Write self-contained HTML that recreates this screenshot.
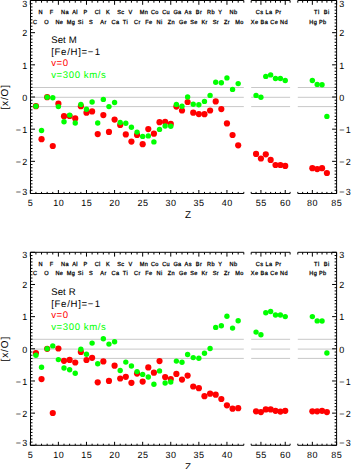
<!DOCTYPE html>
<html><head><meta charset="utf-8"><style>
html,body{margin:0;padding:0;background:#fff;}
svg{display:block;}
text{font-family:"Liberation Sans",sans-serif;fill:#000;text-rendering:geometricPrecision;}
.tk{font-size:9px;}
.tx{font-size:9px;letter-spacing:0.5px;}
.el{font-size:5.9px;font-weight:normal;letter-spacing:0.38px;stroke:#000;stroke-width:0.26px;}
.lg{font-size:9.6px;letter-spacing:0.6px;}
.yt{font-size:10px;}
.zt{font-size:10px;}
</style></head><body>
<svg width="351" height="469" viewBox="0 0 351 469">
<rect width="351" height="469" fill="#fff"/>
<g>
<g>
<line x1="30.3" y1="87.5" x2="243.8" y2="87.5" stroke="#c8c8c8" stroke-width="1"/>
<line x1="251.2" y1="87.5" x2="290.1" y2="87.5" stroke="#c8c8c8" stroke-width="1"/>
<line x1="297.8" y1="87.5" x2="336.6" y2="87.5" stroke="#c8c8c8" stroke-width="1"/>
<line x1="30.3" y1="97.3" x2="243.8" y2="97.3" stroke="#c8c8c8" stroke-width="1"/>
<line x1="251.2" y1="97.3" x2="290.1" y2="97.3" stroke="#c8c8c8" stroke-width="1"/>
<line x1="297.8" y1="97.3" x2="336.6" y2="97.3" stroke="#c8c8c8" stroke-width="1"/>
<line x1="30.3" y1="106.6" x2="243.8" y2="106.6" stroke="#c8c8c8" stroke-width="1"/>
<line x1="251.2" y1="106.6" x2="290.1" y2="106.6" stroke="#c8c8c8" stroke-width="1"/>
<line x1="297.8" y1="106.6" x2="336.6" y2="106.6" stroke="#c8c8c8" stroke-width="1"/>
<path d="M30.3 0.5H243.8M30.3 193.5H243.8M30.3 0.5v4.3M30.3 193.5v-3.5M35.92 0.5v2.2M35.92 193.5v-1.6M41.54 0.5v2.2M41.54 193.5v-1.6M47.16 0.5v2.2M47.16 193.5v-1.6M52.77 0.5v2.2M52.77 193.5v-1.6M58.39 0.5v4.3M58.39 193.5v-3.5M64.01 0.5v2.2M64.01 193.5v-1.6M69.63 0.5v2.2M69.63 193.5v-1.6M75.25 0.5v2.2M75.25 193.5v-1.6M80.87 0.5v2.2M80.87 193.5v-1.6M86.48 0.5v4.3M86.48 193.5v-3.5M92.1 0.5v2.2M92.1 193.5v-1.6M97.72 0.5v2.2M97.72 193.5v-1.6M103.34 0.5v2.2M103.34 193.5v-1.6M108.96 0.5v2.2M108.96 193.5v-1.6M114.58 0.5v4.3M114.58 193.5v-3.5M120.19 0.5v2.2M120.19 193.5v-1.6M125.81 0.5v2.2M125.81 193.5v-1.6M131.43 0.5v2.2M131.43 193.5v-1.6M137.05 0.5v2.2M137.05 193.5v-1.6M142.67 0.5v4.3M142.67 193.5v-3.5M148.29 0.5v2.2M148.29 193.5v-1.6M153.91 0.5v2.2M153.91 193.5v-1.6M159.52 0.5v2.2M159.52 193.5v-1.6M165.14 0.5v2.2M165.14 193.5v-1.6M170.76 0.5v4.3M170.76 193.5v-3.5M176.38 0.5v2.2M176.38 193.5v-1.6M182 0.5v2.2M182 193.5v-1.6M187.62 0.5v2.2M187.62 193.5v-1.6M193.23 0.5v2.2M193.23 193.5v-1.6M198.85 0.5v4.3M198.85 193.5v-3.5M204.47 0.5v2.2M204.47 193.5v-1.6M210.09 0.5v2.2M210.09 193.5v-1.6M215.71 0.5v2.2M215.71 193.5v-1.6M221.33 0.5v2.2M221.33 193.5v-1.6M226.94 0.5v4.3M226.94 193.5v-3.5M232.56 0.5v2.2M232.56 193.5v-1.6M238.18 0.5v2.2M238.18 193.5v-1.6M243.8 0.5v2.2M243.8 193.5v-1.6M251.2 0.5H290.1M251.2 193.5H290.1M251.2 0.5v2.2M251.2 193.5v-1.6M256.06 0.5v2.2M256.06 193.5v-1.6M260.93 0.5v4.3M260.93 193.5v-3.5M265.79 0.5v2.2M265.79 193.5v-1.6M270.65 0.5v2.2M270.65 193.5v-1.6M275.51 0.5v2.2M275.51 193.5v-1.6M280.38 0.5v2.2M280.38 193.5v-1.6M285.24 0.5v4.3M285.24 193.5v-3.5M290.1 0.5v2.2M290.1 193.5v-1.6M297.8 0.5H336.6M297.8 193.5H336.6M297.8 0.5v2.2M297.8 193.5v-1.6M302.65 0.5v2.2M302.65 193.5v-1.6M307.5 0.5v2.2M307.5 193.5v-1.6M312.35 0.5v4.3M312.35 193.5v-3.5M317.2 0.5v2.2M317.2 193.5v-1.6M322.05 0.5v2.2M322.05 193.5v-1.6M326.9 0.5v2.2M326.9 193.5v-1.6M331.75 0.5v2.2M331.75 193.5v-1.6M336.6 0.5v4.3M336.6 193.5v-3.5M30.5 0.5V193.5M336.6 0.5V193.5M30.5 193.5h4.5M336.6 193.5h-4.5M30.5 190.28h2M336.6 190.28h-2M30.5 187.07h2M336.6 187.07h-2M30.5 183.85h2M336.6 183.85h-2M30.5 180.63h2M336.6 180.63h-2M30.5 177.42h2M336.6 177.42h-2M30.5 174.2h2M336.6 174.2h-2M30.5 170.98h2M336.6 170.98h-2M30.5 167.77h2M336.6 167.77h-2M30.5 164.55h2M336.6 164.55h-2M30.5 161.33h4.5M336.6 161.33h-4.5M30.5 158.12h2M336.6 158.12h-2M30.5 154.9h2M336.6 154.9h-2M30.5 151.68h2M336.6 151.68h-2M30.5 148.47h2M336.6 148.47h-2M30.5 145.25h2M336.6 145.25h-2M30.5 142.03h2M336.6 142.03h-2M30.5 138.82h2M336.6 138.82h-2M30.5 135.6h2M336.6 135.6h-2M30.5 132.38h2M336.6 132.38h-2M30.5 129.17h4.5M336.6 129.17h-4.5M30.5 125.95h2M336.6 125.95h-2M30.5 122.73h2M336.6 122.73h-2M30.5 119.52h2M336.6 119.52h-2M30.5 116.3h2M336.6 116.3h-2M30.5 113.08h2M336.6 113.08h-2M30.5 109.87h2M336.6 109.87h-2M30.5 106.65h2M336.6 106.65h-2M30.5 103.43h2M336.6 103.43h-2M30.5 100.22h2M336.6 100.22h-2M30.5 97h4.5M336.6 97h-4.5M30.5 93.78h2M336.6 93.78h-2M30.5 90.57h2M336.6 90.57h-2M30.5 87.35h2M336.6 87.35h-2M30.5 84.13h2M336.6 84.13h-2M30.5 80.92h2M336.6 80.92h-2M30.5 77.7h2M336.6 77.7h-2M30.5 74.48h2M336.6 74.48h-2M30.5 71.27h2M336.6 71.27h-2M30.5 68.05h2M336.6 68.05h-2M30.5 64.83h4.5M336.6 64.83h-4.5M30.5 61.62h2M336.6 61.62h-2M30.5 58.4h2M336.6 58.4h-2M30.5 55.18h2M336.6 55.18h-2M30.5 51.97h2M336.6 51.97h-2M30.5 48.75h2M336.6 48.75h-2M30.5 45.53h2M336.6 45.53h-2M30.5 42.32h2M336.6 42.32h-2M30.5 39.1h2M336.6 39.1h-2M30.5 35.88h2M336.6 35.88h-2M30.5 32.67h4.5M336.6 32.67h-4.5M30.5 29.45h2M336.6 29.45h-2M30.5 26.23h2M336.6 26.23h-2M30.5 23.02h2M336.6 23.02h-2M30.5 19.8h2M336.6 19.8h-2M30.5 16.58h2M336.6 16.58h-2M30.5 13.37h2M336.6 13.37h-2M30.5 10.15h2M336.6 10.15h-2M30.5 6.93h2M336.6 6.93h-2M30.5 3.72h2M336.6 3.72h-2M30.5 0.5h4.5M336.6 0.5h-4.5" stroke="#000" stroke-width="1" fill="none"/>
<text x="27.3" y="6.5" text-anchor="end" class="tk">3</text>
<text x="339.2" y="6.5" class="tk">3</text>
<text x="27.3" y="36.37" text-anchor="end" class="tk">2</text>
<text x="339.2" y="36.37" class="tk">2</text>
<text x="27.3" y="68.53" text-anchor="end" class="tk">1</text>
<text x="339.2" y="68.53" class="tk">1</text>
<text x="27.3" y="100.7" text-anchor="end" class="tk">0</text>
<text x="339.2" y="100.7" class="tk">0</text>
<text x="27.3" y="132.87" text-anchor="end" class="tk">−<tspan dx="1.2">1</tspan></text>
<text x="339.2" y="132.87" class="tk">−<tspan dx="1.2">1</tspan></text>
<text x="27.3" y="165.03" text-anchor="end" class="tk">−<tspan dx="1.2">2</tspan></text>
<text x="339.2" y="165.03" class="tk">−<tspan dx="1.2">2</tspan></text>
<text x="27.3" y="194.5" text-anchor="end" class="tk">−<tspan dx="1.2">3</tspan></text>
<text x="339.2" y="194.5" class="tk">−<tspan dx="1.2">3</tspan></text>
<text x="30.55" y="206.3" text-anchor="middle" class="tx">5</text>
<text x="58.64" y="206.3" text-anchor="middle" class="tx">10</text>
<text x="86.73" y="206.3" text-anchor="middle" class="tx">15</text>
<text x="114.83" y="206.3" text-anchor="middle" class="tx">20</text>
<text x="142.92" y="206.3" text-anchor="middle" class="tx">25</text>
<text x="171.01" y="206.3" text-anchor="middle" class="tx">30</text>
<text x="199.1" y="206.3" text-anchor="middle" class="tx">35</text>
<text x="227.19" y="206.3" text-anchor="middle" class="tx">40</text>
<text x="261.18" y="206.3" text-anchor="middle" class="tx">55</text>
<text x="285.49" y="206.3" text-anchor="middle" class="tx">60</text>
<text x="312.6" y="206.3" text-anchor="middle" class="tx">80</text>
<text x="336.85" y="206.3" text-anchor="middle" class="tx">85</text>
<text x="188" y="218" text-anchor="middle" class="zt">Z</text>
<text transform="translate(32.92 23.5) scale(0.95 1)" class="el">C</text>
<text transform="translate(38.54 14.1) scale(0.95 1)" class="el">N</text>
<text transform="translate(44.16 23.5) scale(0.95 1)" class="el">O</text>
<text transform="translate(49.77 14.1) scale(0.95 1)" class="el">F</text>
<text transform="translate(55.39 23.5) scale(0.95 1)" class="el">Ne</text>
<text transform="translate(61.01 14.1) scale(0.95 1)" class="el">Na</text>
<text transform="translate(66.63 23.5) scale(0.95 1)" class="el">Mg</text>
<text transform="translate(72.25 14.1) scale(0.95 1)" class="el">Al</text>
<text transform="translate(77.87 23.5) scale(0.95 1)" class="el">Si</text>
<text transform="translate(83.48 14.1) scale(0.95 1)" class="el">P</text>
<text transform="translate(89.1 23.5) scale(0.95 1)" class="el">S</text>
<text transform="translate(94.72 14.1) scale(0.95 1)" class="el">Cl</text>
<text transform="translate(100.34 23.5) scale(0.95 1)" class="el">Ar</text>
<text transform="translate(105.96 14.1) scale(0.95 1)" class="el">K</text>
<text transform="translate(111.58 23.5) scale(0.95 1)" class="el">Ca</text>
<text transform="translate(117.19 14.1) scale(0.95 1)" class="el">Sc</text>
<text transform="translate(122.81 23.5) scale(0.95 1)" class="el">Ti</text>
<text transform="translate(128.43 14.1) scale(0.95 1)" class="el">V</text>
<text transform="translate(134.05 23.5) scale(0.95 1)" class="el">Cr</text>
<text transform="translate(139.67 14.1) scale(0.95 1)" class="el">Mn</text>
<text transform="translate(145.29 23.5) scale(0.95 1)" class="el">Fe</text>
<text transform="translate(150.91 14.1) scale(0.95 1)" class="el">Co</text>
<text transform="translate(156.52 23.5) scale(0.95 1)" class="el">Ni</text>
<text transform="translate(162.14 14.1) scale(0.95 1)" class="el">Cu</text>
<text transform="translate(167.76 23.5) scale(0.95 1)" class="el">Zn</text>
<text transform="translate(173.38 14.1) scale(0.95 1)" class="el">Ga</text>
<text transform="translate(179 23.5) scale(0.95 1)" class="el">Ge</text>
<text transform="translate(184.62 14.1) scale(0.95 1)" class="el">As</text>
<text transform="translate(190.23 23.5) scale(0.95 1)" class="el">Se</text>
<text transform="translate(195.85 14.1) scale(0.95 1)" class="el">Br</text>
<text transform="translate(201.47 23.5) scale(0.95 1)" class="el">Kr</text>
<text transform="translate(207.09 14.1) scale(0.95 1)" class="el">Rb</text>
<text transform="translate(212.71 23.5) scale(0.95 1)" class="el">Sr</text>
<text transform="translate(218.33 14.1) scale(0.95 1)" class="el">Y</text>
<text transform="translate(223.94 23.5) scale(0.95 1)" class="el">Zr</text>
<text transform="translate(229.56 14.1) scale(0.95 1)" class="el">Nb</text>
<text transform="translate(235.18 23.5) scale(0.95 1)" class="el">Mo</text>
<text transform="translate(250.86 23.5) scale(0.95 1)" class="el">Xe</text>
<text transform="translate(255.73 14.1) scale(0.95 1)" class="el">Cs</text>
<text transform="translate(260.59 23.5) scale(0.95 1)" class="el">Ba</text>
<text transform="translate(265.45 14.1) scale(0.95 1)" class="el">La</text>
<text transform="translate(270.31 23.5) scale(0.95 1)" class="el">Ce</text>
<text transform="translate(275.18 14.1) scale(0.95 1)" class="el">Pr</text>
<text transform="translate(280.04 23.5) scale(0.95 1)" class="el">Nd</text>
<text transform="translate(309.25 23.5) scale(0.95 1)" class="el">Hg</text>
<text transform="translate(314.1 14.1) scale(0.95 1)" class="el">Tl</text>
<text transform="translate(318.95 23.5) scale(0.95 1)" class="el">Pb</text>
<text transform="translate(323.8 14.1) scale(0.95 1)" class="el">Bi</text>
<text x="51.2" y="43.3" class="lg" style="letter-spacing:0.1px">Set M</text>
<text x="51.2" y="54.8" class="lg" style="letter-spacing:0.7px">[Fe/H]=−<tspan dx="0.5">1</tspan></text>
<text x="51.2" y="66.3" class="lg" style="fill:#ff0000">v=0</text>
<text x="51.2" y="77.8" class="lg" style="fill:#00ff00">v=300 km/s</text>
<text transform="translate(8.1 97.3) rotate(-90)" text-anchor="middle" textLength="24.6" lengthAdjust="spacing" class="yt">[x/O]</text>
</g>
<circle cx="35.92" cy="106.2" r="3.1" fill="#ff0000"/>
<circle cx="41.54" cy="139.2" r="3.1" fill="#ff0000"/>
<circle cx="47.16" cy="97.2" r="3.1" fill="#ff0000"/>
<circle cx="52.77" cy="146" r="3.1" fill="#ff0000"/>
<circle cx="58.39" cy="103.7" r="3.1" fill="#ff0000"/>
<circle cx="64.01" cy="116.2" r="3.1" fill="#ff0000"/>
<circle cx="69.63" cy="116" r="3.1" fill="#ff0000"/>
<circle cx="75.25" cy="118.4" r="3.1" fill="#ff0000"/>
<circle cx="80.87" cy="106.2" r="3.1" fill="#ff0000"/>
<circle cx="86.48" cy="112.7" r="3.1" fill="#ff0000"/>
<circle cx="92.1" cy="111.4" r="3.1" fill="#ff0000"/>
<circle cx="97.72" cy="134.1" r="3.1" fill="#ff0000"/>
<circle cx="103.34" cy="115.1" r="3.1" fill="#ff0000"/>
<circle cx="108.96" cy="131.9" r="3.1" fill="#ff0000"/>
<circle cx="114.58" cy="119.6" r="3.1" fill="#ff0000"/>
<circle cx="120.19" cy="125" r="3.1" fill="#ff0000"/>
<circle cx="125.81" cy="134.4" r="3.1" fill="#ff0000"/>
<circle cx="131.43" cy="141.6" r="3.1" fill="#ff0000"/>
<circle cx="137.05" cy="134.9" r="3.1" fill="#ff0000"/>
<circle cx="142.67" cy="144.2" r="3.1" fill="#ff0000"/>
<circle cx="148.29" cy="129.1" r="3.1" fill="#ff0000"/>
<circle cx="153.91" cy="133.7" r="3.1" fill="#ff0000"/>
<circle cx="159.52" cy="122.2" r="3.1" fill="#ff0000"/>
<circle cx="165.14" cy="121.9" r="3.1" fill="#ff0000"/>
<circle cx="170.76" cy="123.9" r="3.1" fill="#ff0000"/>
<circle cx="176.38" cy="106.6" r="3.1" fill="#ff0000"/>
<circle cx="182" cy="110.5" r="3.1" fill="#ff0000"/>
<circle cx="187.62" cy="102" r="3.1" fill="#ff0000"/>
<circle cx="193.23" cy="112.7" r="3.1" fill="#ff0000"/>
<circle cx="198.85" cy="114.1" r="3.1" fill="#ff0000"/>
<circle cx="204.47" cy="114.2" r="3.1" fill="#ff0000"/>
<circle cx="210.09" cy="110.5" r="3.1" fill="#ff0000"/>
<circle cx="215.71" cy="101.4" r="3.1" fill="#ff0000"/>
<circle cx="221.33" cy="109.1" r="3.1" fill="#ff0000"/>
<circle cx="226.94" cy="123.4" r="3.1" fill="#ff0000"/>
<circle cx="232.56" cy="135" r="3.1" fill="#ff0000"/>
<circle cx="238.18" cy="145.3" r="3.1" fill="#ff0000"/>
<circle cx="256.06" cy="153.9" r="3.1" fill="#ff0000"/>
<circle cx="260.93" cy="158.5" r="3.1" fill="#ff0000"/>
<circle cx="265.79" cy="154.3" r="3.1" fill="#ff0000"/>
<circle cx="270.65" cy="159.9" r="3.1" fill="#ff0000"/>
<circle cx="275.51" cy="165" r="3.1" fill="#ff0000"/>
<circle cx="280.38" cy="165" r="3.1" fill="#ff0000"/>
<circle cx="285.24" cy="165.9" r="3.1" fill="#ff0000"/>
<circle cx="312.35" cy="168.2" r="3.1" fill="#ff0000"/>
<circle cx="317.2" cy="169.1" r="3.1" fill="#ff0000"/>
<circle cx="322.05" cy="168.2" r="3.1" fill="#ff0000"/>
<circle cx="326.9" cy="173" r="3.1" fill="#ff0000"/>
<circle cx="35.92" cy="106.2" r="2.7" fill="#00ff00"/>
<circle cx="41.54" cy="130.5" r="2.7" fill="#00ff00"/>
<circle cx="47.16" cy="97.2" r="2.7" fill="#00ff00"/>
<circle cx="52.77" cy="97.7" r="2.7" fill="#00ff00"/>
<circle cx="58.39" cy="106.6" r="2.7" fill="#00ff00"/>
<circle cx="64.01" cy="121.8" r="2.7" fill="#00ff00"/>
<circle cx="69.63" cy="115.1" r="2.7" fill="#00ff00"/>
<circle cx="75.25" cy="123" r="2.7" fill="#00ff00"/>
<circle cx="80.87" cy="104.5" r="2.7" fill="#00ff00"/>
<circle cx="86.48" cy="109.2" r="2.7" fill="#00ff00"/>
<circle cx="92.1" cy="102" r="2.7" fill="#00ff00"/>
<circle cx="97.72" cy="123" r="2.7" fill="#00ff00"/>
<circle cx="103.34" cy="99.4" r="2.7" fill="#00ff00"/>
<circle cx="108.96" cy="106.6" r="2.7" fill="#00ff00"/>
<circle cx="114.58" cy="102.5" r="2.7" fill="#00ff00"/>
<circle cx="120.19" cy="122.5" r="2.7" fill="#00ff00"/>
<circle cx="125.81" cy="123.3" r="2.7" fill="#00ff00"/>
<circle cx="131.43" cy="127.3" r="2.7" fill="#00ff00"/>
<circle cx="137.05" cy="132.1" r="2.7" fill="#00ff00"/>
<circle cx="142.67" cy="136.4" r="2.7" fill="#00ff00"/>
<circle cx="148.29" cy="135.9" r="2.7" fill="#00ff00"/>
<circle cx="153.91" cy="141.9" r="2.7" fill="#00ff00"/>
<circle cx="159.52" cy="129.4" r="2.7" fill="#00ff00"/>
<circle cx="165.14" cy="126" r="2.7" fill="#00ff00"/>
<circle cx="170.76" cy="126.2" r="2.7" fill="#00ff00"/>
<circle cx="176.38" cy="104.4" r="2.7" fill="#00ff00"/>
<circle cx="182" cy="106.2" r="2.7" fill="#00ff00"/>
<circle cx="187.62" cy="97" r="2.7" fill="#00ff00"/>
<circle cx="193.23" cy="104.2" r="2.7" fill="#00ff00"/>
<circle cx="198.85" cy="104.7" r="2.7" fill="#00ff00"/>
<circle cx="204.47" cy="101.4" r="2.7" fill="#00ff00"/>
<circle cx="210.09" cy="95.4" r="2.7" fill="#00ff00"/>
<circle cx="215.71" cy="82.2" r="2.7" fill="#00ff00"/>
<circle cx="221.33" cy="82.7" r="2.7" fill="#00ff00"/>
<circle cx="226.94" cy="77.9" r="2.7" fill="#00ff00"/>
<circle cx="232.56" cy="89.4" r="2.7" fill="#00ff00"/>
<circle cx="238.18" cy="83.6" r="2.7" fill="#00ff00"/>
<circle cx="256.06" cy="95.4" r="2.7" fill="#00ff00"/>
<circle cx="260.93" cy="97.3" r="2.7" fill="#00ff00"/>
<circle cx="265.79" cy="76.4" r="2.7" fill="#00ff00"/>
<circle cx="270.65" cy="74.9" r="2.7" fill="#00ff00"/>
<circle cx="275.51" cy="78.5" r="2.7" fill="#00ff00"/>
<circle cx="280.38" cy="78.5" r="2.7" fill="#00ff00"/>
<circle cx="285.24" cy="80.5" r="2.7" fill="#00ff00"/>
<circle cx="312.35" cy="80.5" r="2.7" fill="#00ff00"/>
<circle cx="317.2" cy="84.4" r="2.7" fill="#00ff00"/>
<circle cx="322.05" cy="84.8" r="2.7" fill="#00ff00"/>
<circle cx="326.9" cy="116.4" r="2.7" fill="#00ff00"/>
<g>
<line x1="30.3" y1="339.3" x2="243.8" y2="339.3" stroke="#c8c8c8" stroke-width="1"/>
<line x1="251.2" y1="339.3" x2="290.1" y2="339.3" stroke="#c8c8c8" stroke-width="1"/>
<line x1="297.8" y1="339.3" x2="336.6" y2="339.3" stroke="#c8c8c8" stroke-width="1"/>
<line x1="30.3" y1="349.1" x2="243.8" y2="349.1" stroke="#c8c8c8" stroke-width="1"/>
<line x1="251.2" y1="349.1" x2="290.1" y2="349.1" stroke="#c8c8c8" stroke-width="1"/>
<line x1="297.8" y1="349.1" x2="336.6" y2="349.1" stroke="#c8c8c8" stroke-width="1"/>
<line x1="30.3" y1="358.4" x2="243.8" y2="358.4" stroke="#c8c8c8" stroke-width="1"/>
<line x1="251.2" y1="358.4" x2="290.1" y2="358.4" stroke="#c8c8c8" stroke-width="1"/>
<line x1="297.8" y1="358.4" x2="336.6" y2="358.4" stroke="#c8c8c8" stroke-width="1"/>
<path d="M30.3 252.3H243.8M30.3 445.3H243.8M30.3 252.3v4.3M30.3 445.3v-3.5M35.92 252.3v2.2M35.92 445.3v-1.6M41.54 252.3v2.2M41.54 445.3v-1.6M47.16 252.3v2.2M47.16 445.3v-1.6M52.77 252.3v2.2M52.77 445.3v-1.6M58.39 252.3v4.3M58.39 445.3v-3.5M64.01 252.3v2.2M64.01 445.3v-1.6M69.63 252.3v2.2M69.63 445.3v-1.6M75.25 252.3v2.2M75.25 445.3v-1.6M80.87 252.3v2.2M80.87 445.3v-1.6M86.48 252.3v4.3M86.48 445.3v-3.5M92.1 252.3v2.2M92.1 445.3v-1.6M97.72 252.3v2.2M97.72 445.3v-1.6M103.34 252.3v2.2M103.34 445.3v-1.6M108.96 252.3v2.2M108.96 445.3v-1.6M114.58 252.3v4.3M114.58 445.3v-3.5M120.19 252.3v2.2M120.19 445.3v-1.6M125.81 252.3v2.2M125.81 445.3v-1.6M131.43 252.3v2.2M131.43 445.3v-1.6M137.05 252.3v2.2M137.05 445.3v-1.6M142.67 252.3v4.3M142.67 445.3v-3.5M148.29 252.3v2.2M148.29 445.3v-1.6M153.91 252.3v2.2M153.91 445.3v-1.6M159.52 252.3v2.2M159.52 445.3v-1.6M165.14 252.3v2.2M165.14 445.3v-1.6M170.76 252.3v4.3M170.76 445.3v-3.5M176.38 252.3v2.2M176.38 445.3v-1.6M182 252.3v2.2M182 445.3v-1.6M187.62 252.3v2.2M187.62 445.3v-1.6M193.23 252.3v2.2M193.23 445.3v-1.6M198.85 252.3v4.3M198.85 445.3v-3.5M204.47 252.3v2.2M204.47 445.3v-1.6M210.09 252.3v2.2M210.09 445.3v-1.6M215.71 252.3v2.2M215.71 445.3v-1.6M221.33 252.3v2.2M221.33 445.3v-1.6M226.94 252.3v4.3M226.94 445.3v-3.5M232.56 252.3v2.2M232.56 445.3v-1.6M238.18 252.3v2.2M238.18 445.3v-1.6M243.8 252.3v2.2M243.8 445.3v-1.6M251.2 252.3H290.1M251.2 445.3H290.1M251.2 252.3v2.2M251.2 445.3v-1.6M256.06 252.3v2.2M256.06 445.3v-1.6M260.93 252.3v4.3M260.93 445.3v-3.5M265.79 252.3v2.2M265.79 445.3v-1.6M270.65 252.3v2.2M270.65 445.3v-1.6M275.51 252.3v2.2M275.51 445.3v-1.6M280.38 252.3v2.2M280.38 445.3v-1.6M285.24 252.3v4.3M285.24 445.3v-3.5M290.1 252.3v2.2M290.1 445.3v-1.6M297.8 252.3H336.6M297.8 445.3H336.6M297.8 252.3v2.2M297.8 445.3v-1.6M302.65 252.3v2.2M302.65 445.3v-1.6M307.5 252.3v2.2M307.5 445.3v-1.6M312.35 252.3v4.3M312.35 445.3v-3.5M317.2 252.3v2.2M317.2 445.3v-1.6M322.05 252.3v2.2M322.05 445.3v-1.6M326.9 252.3v2.2M326.9 445.3v-1.6M331.75 252.3v2.2M331.75 445.3v-1.6M336.6 252.3v4.3M336.6 445.3v-3.5M30.5 252.3V445.3M336.6 252.3V445.3M30.5 445.3h4.5M336.6 445.3h-4.5M30.5 442.08h2M336.6 442.08h-2M30.5 438.87h2M336.6 438.87h-2M30.5 435.65h2M336.6 435.65h-2M30.5 432.43h2M336.6 432.43h-2M30.5 429.22h2M336.6 429.22h-2M30.5 426h2M336.6 426h-2M30.5 422.78h2M336.6 422.78h-2M30.5 419.57h2M336.6 419.57h-2M30.5 416.35h2M336.6 416.35h-2M30.5 413.13h4.5M336.6 413.13h-4.5M30.5 409.92h2M336.6 409.92h-2M30.5 406.7h2M336.6 406.7h-2M30.5 403.48h2M336.6 403.48h-2M30.5 400.27h2M336.6 400.27h-2M30.5 397.05h2M336.6 397.05h-2M30.5 393.83h2M336.6 393.83h-2M30.5 390.62h2M336.6 390.62h-2M30.5 387.4h2M336.6 387.4h-2M30.5 384.18h2M336.6 384.18h-2M30.5 380.97h4.5M336.6 380.97h-4.5M30.5 377.75h2M336.6 377.75h-2M30.5 374.53h2M336.6 374.53h-2M30.5 371.32h2M336.6 371.32h-2M30.5 368.1h2M336.6 368.1h-2M30.5 364.88h2M336.6 364.88h-2M30.5 361.67h2M336.6 361.67h-2M30.5 358.45h2M336.6 358.45h-2M30.5 355.23h2M336.6 355.23h-2M30.5 352.02h2M336.6 352.02h-2M30.5 348.8h4.5M336.6 348.8h-4.5M30.5 345.58h2M336.6 345.58h-2M30.5 342.37h2M336.6 342.37h-2M30.5 339.15h2M336.6 339.15h-2M30.5 335.93h2M336.6 335.93h-2M30.5 332.72h2M336.6 332.72h-2M30.5 329.5h2M336.6 329.5h-2M30.5 326.28h2M336.6 326.28h-2M30.5 323.07h2M336.6 323.07h-2M30.5 319.85h2M336.6 319.85h-2M30.5 316.63h4.5M336.6 316.63h-4.5M30.5 313.42h2M336.6 313.42h-2M30.5 310.2h2M336.6 310.2h-2M30.5 306.98h2M336.6 306.98h-2M30.5 303.77h2M336.6 303.77h-2M30.5 300.55h2M336.6 300.55h-2M30.5 297.33h2M336.6 297.33h-2M30.5 294.12h2M336.6 294.12h-2M30.5 290.9h2M336.6 290.9h-2M30.5 287.68h2M336.6 287.68h-2M30.5 284.47h4.5M336.6 284.47h-4.5M30.5 281.25h2M336.6 281.25h-2M30.5 278.03h2M336.6 278.03h-2M30.5 274.82h2M336.6 274.82h-2M30.5 271.6h2M336.6 271.6h-2M30.5 268.38h2M336.6 268.38h-2M30.5 265.17h2M336.6 265.17h-2M30.5 261.95h2M336.6 261.95h-2M30.5 258.73h2M336.6 258.73h-2M30.5 255.52h2M336.6 255.52h-2M30.5 252.3h4.5M336.6 252.3h-4.5" stroke="#000" stroke-width="1" fill="none"/>
<text x="27.3" y="258.3" text-anchor="end" class="tk">3</text>
<text x="339.2" y="258.3" class="tk">3</text>
<text x="27.3" y="288.17" text-anchor="end" class="tk">2</text>
<text x="339.2" y="288.17" class="tk">2</text>
<text x="27.3" y="320.33" text-anchor="end" class="tk">1</text>
<text x="339.2" y="320.33" class="tk">1</text>
<text x="27.3" y="352.5" text-anchor="end" class="tk">0</text>
<text x="339.2" y="352.5" class="tk">0</text>
<text x="27.3" y="384.67" text-anchor="end" class="tk">−<tspan dx="1.2">1</tspan></text>
<text x="339.2" y="384.67" class="tk">−<tspan dx="1.2">1</tspan></text>
<text x="27.3" y="416.83" text-anchor="end" class="tk">−<tspan dx="1.2">2</tspan></text>
<text x="339.2" y="416.83" class="tk">−<tspan dx="1.2">2</tspan></text>
<text x="27.3" y="446.3" text-anchor="end" class="tk">−<tspan dx="1.2">3</tspan></text>
<text x="339.2" y="446.3" class="tk">−<tspan dx="1.2">3</tspan></text>
<text x="30.55" y="458.1" text-anchor="middle" class="tx">5</text>
<text x="58.64" y="458.1" text-anchor="middle" class="tx">10</text>
<text x="86.73" y="458.1" text-anchor="middle" class="tx">15</text>
<text x="114.83" y="458.1" text-anchor="middle" class="tx">20</text>
<text x="142.92" y="458.1" text-anchor="middle" class="tx">25</text>
<text x="171.01" y="458.1" text-anchor="middle" class="tx">30</text>
<text x="199.1" y="458.1" text-anchor="middle" class="tx">35</text>
<text x="227.19" y="458.1" text-anchor="middle" class="tx">40</text>
<text x="261.18" y="458.1" text-anchor="middle" class="tx">55</text>
<text x="285.49" y="458.1" text-anchor="middle" class="tx">60</text>
<text x="312.6" y="458.1" text-anchor="middle" class="tx">80</text>
<text x="336.85" y="458.1" text-anchor="middle" class="tx">85</text>
<text x="188" y="469.8" text-anchor="middle" class="zt">Z</text>
<text transform="translate(32.92 275.3) scale(0.95 1)" class="el">C</text>
<text transform="translate(38.54 265.9) scale(0.95 1)" class="el">N</text>
<text transform="translate(44.16 275.3) scale(0.95 1)" class="el">O</text>
<text transform="translate(49.77 265.9) scale(0.95 1)" class="el">F</text>
<text transform="translate(55.39 275.3) scale(0.95 1)" class="el">Ne</text>
<text transform="translate(61.01 265.9) scale(0.95 1)" class="el">Na</text>
<text transform="translate(66.63 275.3) scale(0.95 1)" class="el">Mg</text>
<text transform="translate(72.25 265.9) scale(0.95 1)" class="el">Al</text>
<text transform="translate(77.87 275.3) scale(0.95 1)" class="el">Si</text>
<text transform="translate(83.48 265.9) scale(0.95 1)" class="el">P</text>
<text transform="translate(89.1 275.3) scale(0.95 1)" class="el">S</text>
<text transform="translate(94.72 265.9) scale(0.95 1)" class="el">Cl</text>
<text transform="translate(100.34 275.3) scale(0.95 1)" class="el">Ar</text>
<text transform="translate(105.96 265.9) scale(0.95 1)" class="el">K</text>
<text transform="translate(111.58 275.3) scale(0.95 1)" class="el">Ca</text>
<text transform="translate(117.19 265.9) scale(0.95 1)" class="el">Sc</text>
<text transform="translate(122.81 275.3) scale(0.95 1)" class="el">Ti</text>
<text transform="translate(128.43 265.9) scale(0.95 1)" class="el">V</text>
<text transform="translate(134.05 275.3) scale(0.95 1)" class="el">Cr</text>
<text transform="translate(139.67 265.9) scale(0.95 1)" class="el">Mn</text>
<text transform="translate(145.29 275.3) scale(0.95 1)" class="el">Fe</text>
<text transform="translate(150.91 265.9) scale(0.95 1)" class="el">Co</text>
<text transform="translate(156.52 275.3) scale(0.95 1)" class="el">Ni</text>
<text transform="translate(162.14 265.9) scale(0.95 1)" class="el">Cu</text>
<text transform="translate(167.76 275.3) scale(0.95 1)" class="el">Zn</text>
<text transform="translate(173.38 265.9) scale(0.95 1)" class="el">Ga</text>
<text transform="translate(179 275.3) scale(0.95 1)" class="el">Ge</text>
<text transform="translate(184.62 265.9) scale(0.95 1)" class="el">As</text>
<text transform="translate(190.23 275.3) scale(0.95 1)" class="el">Se</text>
<text transform="translate(195.85 265.9) scale(0.95 1)" class="el">Br</text>
<text transform="translate(201.47 275.3) scale(0.95 1)" class="el">Kr</text>
<text transform="translate(207.09 265.9) scale(0.95 1)" class="el">Rb</text>
<text transform="translate(212.71 275.3) scale(0.95 1)" class="el">Sr</text>
<text transform="translate(218.33 265.9) scale(0.95 1)" class="el">Y</text>
<text transform="translate(223.94 275.3) scale(0.95 1)" class="el">Zr</text>
<text transform="translate(229.56 265.9) scale(0.95 1)" class="el">Nb</text>
<text transform="translate(235.18 275.3) scale(0.95 1)" class="el">Mo</text>
<text transform="translate(250.86 275.3) scale(0.95 1)" class="el">Xe</text>
<text transform="translate(255.73 265.9) scale(0.95 1)" class="el">Cs</text>
<text transform="translate(260.59 275.3) scale(0.95 1)" class="el">Ba</text>
<text transform="translate(265.45 265.9) scale(0.95 1)" class="el">La</text>
<text transform="translate(270.31 275.3) scale(0.95 1)" class="el">Ce</text>
<text transform="translate(275.18 265.9) scale(0.95 1)" class="el">Pr</text>
<text transform="translate(280.04 275.3) scale(0.95 1)" class="el">Nd</text>
<text transform="translate(309.25 275.3) scale(0.95 1)" class="el">Hg</text>
<text transform="translate(314.1 265.9) scale(0.95 1)" class="el">Tl</text>
<text transform="translate(318.95 275.3) scale(0.95 1)" class="el">Pb</text>
<text transform="translate(323.8 265.9) scale(0.95 1)" class="el">Bi</text>
<text x="51.2" y="295.1" class="lg" style="letter-spacing:0.1px">Set R</text>
<text x="51.2" y="306.6" class="lg" style="letter-spacing:0.7px">[Fe/H]=−<tspan dx="0.5">1</tspan></text>
<text x="51.2" y="318.1" class="lg" style="fill:#ff0000">v=0</text>
<text x="51.2" y="329.6" class="lg" style="fill:#00ff00">v=300 km/s</text>
<text transform="translate(8.1 349.1) rotate(-90)" text-anchor="middle" textLength="24.6" lengthAdjust="spacing" class="yt">[x/O]</text>
</g>
<circle cx="35.92" cy="353.1" r="3.1" fill="#ff0000"/>
<circle cx="41.54" cy="379.1" r="3.1" fill="#ff0000"/>
<circle cx="47.16" cy="348.8" r="3.1" fill="#ff0000"/>
<circle cx="52.77" cy="413" r="3.1" fill="#ff0000"/>
<circle cx="58.39" cy="348.5" r="3.1" fill="#ff0000"/>
<circle cx="64.01" cy="360.8" r="3.1" fill="#ff0000"/>
<circle cx="69.63" cy="359.9" r="3.1" fill="#ff0000"/>
<circle cx="75.25" cy="362.5" r="3.1" fill="#ff0000"/>
<circle cx="80.87" cy="351.9" r="3.1" fill="#ff0000"/>
<circle cx="86.48" cy="360" r="3.1" fill="#ff0000"/>
<circle cx="92.1" cy="357.8" r="3.1" fill="#ff0000"/>
<circle cx="97.72" cy="382.3" r="3.1" fill="#ff0000"/>
<circle cx="103.34" cy="361.4" r="3.1" fill="#ff0000"/>
<circle cx="108.96" cy="380.9" r="3.1" fill="#ff0000"/>
<circle cx="114.58" cy="365.7" r="3.1" fill="#ff0000"/>
<circle cx="120.19" cy="378.5" r="3.1" fill="#ff0000"/>
<circle cx="125.81" cy="376.8" r="3.1" fill="#ff0000"/>
<circle cx="131.43" cy="382.8" r="3.1" fill="#ff0000"/>
<circle cx="137.05" cy="373.6" r="3.1" fill="#ff0000"/>
<circle cx="142.67" cy="381.6" r="3.1" fill="#ff0000"/>
<circle cx="148.29" cy="367.4" r="3.1" fill="#ff0000"/>
<circle cx="153.91" cy="372.7" r="3.1" fill="#ff0000"/>
<circle cx="159.52" cy="361.1" r="3.1" fill="#ff0000"/>
<circle cx="165.14" cy="377" r="3.1" fill="#ff0000"/>
<circle cx="170.76" cy="379.1" r="3.1" fill="#ff0000"/>
<circle cx="176.38" cy="373.9" r="3.1" fill="#ff0000"/>
<circle cx="182" cy="379.6" r="3.1" fill="#ff0000"/>
<circle cx="187.62" cy="375.6" r="3.1" fill="#ff0000"/>
<circle cx="193.23" cy="386.5" r="3.1" fill="#ff0000"/>
<circle cx="198.85" cy="388.2" r="3.1" fill="#ff0000"/>
<circle cx="204.47" cy="396.2" r="3.1" fill="#ff0000"/>
<circle cx="210.09" cy="393.7" r="3.1" fill="#ff0000"/>
<circle cx="215.71" cy="394.7" r="3.1" fill="#ff0000"/>
<circle cx="221.33" cy="399" r="3.1" fill="#ff0000"/>
<circle cx="226.94" cy="405.3" r="3.1" fill="#ff0000"/>
<circle cx="232.56" cy="408.7" r="3.1" fill="#ff0000"/>
<circle cx="238.18" cy="408.2" r="3.1" fill="#ff0000"/>
<circle cx="256.06" cy="411.3" r="3.1" fill="#ff0000"/>
<circle cx="260.93" cy="412.1" r="3.1" fill="#ff0000"/>
<circle cx="265.79" cy="409.4" r="3.1" fill="#ff0000"/>
<circle cx="270.65" cy="409.4" r="3.1" fill="#ff0000"/>
<circle cx="275.51" cy="410.8" r="3.1" fill="#ff0000"/>
<circle cx="280.38" cy="411.6" r="3.1" fill="#ff0000"/>
<circle cx="285.24" cy="410.8" r="3.1" fill="#ff0000"/>
<circle cx="312.35" cy="411.3" r="3.1" fill="#ff0000"/>
<circle cx="317.2" cy="411.3" r="3.1" fill="#ff0000"/>
<circle cx="322.05" cy="410.8" r="3.1" fill="#ff0000"/>
<circle cx="326.9" cy="412.1" r="3.1" fill="#ff0000"/>
<circle cx="35.92" cy="355.3" r="2.7" fill="#00ff00"/>
<circle cx="41.54" cy="367.3" r="2.7" fill="#00ff00"/>
<circle cx="47.16" cy="348.8" r="2.7" fill="#00ff00"/>
<circle cx="52.77" cy="345.9" r="2.7" fill="#00ff00"/>
<circle cx="58.39" cy="359.6" r="2.7" fill="#00ff00"/>
<circle cx="64.01" cy="368" r="2.7" fill="#00ff00"/>
<circle cx="69.63" cy="369.8" r="2.7" fill="#00ff00"/>
<circle cx="75.25" cy="373.2" r="2.7" fill="#00ff00"/>
<circle cx="80.87" cy="349.3" r="2.7" fill="#00ff00"/>
<circle cx="86.48" cy="354.2" r="2.7" fill="#00ff00"/>
<circle cx="92.1" cy="343.1" r="2.7" fill="#00ff00"/>
<circle cx="97.72" cy="363.8" r="2.7" fill="#00ff00"/>
<circle cx="103.34" cy="338.8" r="2.7" fill="#00ff00"/>
<circle cx="108.96" cy="344.1" r="2.7" fill="#00ff00"/>
<circle cx="114.58" cy="341.8" r="2.7" fill="#00ff00"/>
<circle cx="120.19" cy="370.5" r="2.7" fill="#00ff00"/>
<circle cx="125.81" cy="362.1" r="2.7" fill="#00ff00"/>
<circle cx="131.43" cy="366" r="2.7" fill="#00ff00"/>
<circle cx="137.05" cy="371.6" r="2.7" fill="#00ff00"/>
<circle cx="142.67" cy="374.4" r="2.7" fill="#00ff00"/>
<circle cx="148.29" cy="377" r="2.7" fill="#00ff00"/>
<circle cx="153.91" cy="384.2" r="2.7" fill="#00ff00"/>
<circle cx="159.52" cy="370.9" r="2.7" fill="#00ff00"/>
<circle cx="165.14" cy="383" r="2.7" fill="#00ff00"/>
<circle cx="170.76" cy="382" r="2.7" fill="#00ff00"/>
<circle cx="176.38" cy="361.1" r="2.7" fill="#00ff00"/>
<circle cx="182" cy="362.3" r="2.7" fill="#00ff00"/>
<circle cx="187.62" cy="354.5" r="2.7" fill="#00ff00"/>
<circle cx="193.23" cy="357.6" r="2.7" fill="#00ff00"/>
<circle cx="198.85" cy="358.2" r="2.7" fill="#00ff00"/>
<circle cx="204.47" cy="353.2" r="2.7" fill="#00ff00"/>
<circle cx="210.09" cy="348.5" r="2.7" fill="#00ff00"/>
<circle cx="215.71" cy="327.4" r="2.7" fill="#00ff00"/>
<circle cx="221.33" cy="325.7" r="2.7" fill="#00ff00"/>
<circle cx="226.94" cy="316.3" r="2.7" fill="#00ff00"/>
<circle cx="232.56" cy="328.1" r="2.7" fill="#00ff00"/>
<circle cx="238.18" cy="320.8" r="2.7" fill="#00ff00"/>
<circle cx="256.06" cy="332.1" r="2.7" fill="#00ff00"/>
<circle cx="260.93" cy="334.7" r="2.7" fill="#00ff00"/>
<circle cx="265.79" cy="312.8" r="2.7" fill="#00ff00"/>
<circle cx="270.65" cy="311.5" r="2.7" fill="#00ff00"/>
<circle cx="275.51" cy="315" r="2.7" fill="#00ff00"/>
<circle cx="280.38" cy="315" r="2.7" fill="#00ff00"/>
<circle cx="285.24" cy="316.6" r="2.7" fill="#00ff00"/>
<circle cx="312.35" cy="316.6" r="2.7" fill="#00ff00"/>
<circle cx="317.2" cy="320.9" r="2.7" fill="#00ff00"/>
<circle cx="322.05" cy="321" r="2.7" fill="#00ff00"/>
<circle cx="326.9" cy="353" r="2.7" fill="#00ff00"/>
</g>
</svg>
</body></html>
